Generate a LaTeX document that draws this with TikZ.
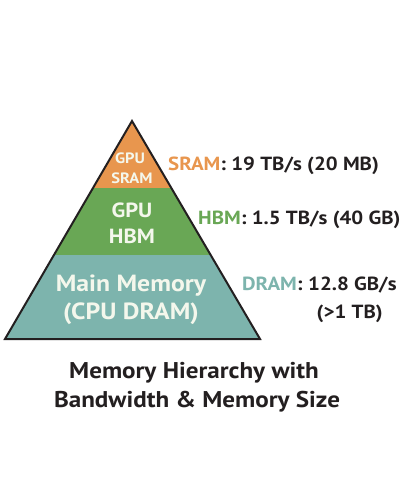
\documentclass[tikz,border=0pt]{standalone}
\usepackage{fontspec}
\setmainfont{PT Sans}[FakeStretch=1.1]
\usepackage{xcolor}
\definecolor{sramorange}{HTML}{E8964E}
\definecolor{hbmgreen}{HTML}{69A755}
\definecolor{dramteal}{HTML}{7DB4AD}
\definecolor{inkblack}{HTML}{231F20}
\definecolor{layertext}{HTML}{F4F7EC}

\begin{document}
\begin{tikzpicture}[x=1pt, y=-1pt,
            layer/.style={anchor=base, inner sep=0pt, text=layertext, font=\bfseries\fontsize{#1}{#1}\selectfont},
            speed/.style={anchor=base west, inner sep=0pt, text=inkblack, font=\bfseries\fontsize{19}{19}\selectfont},
            caption/.style={anchor=base, inner sep=0pt, text=inkblack, font=\bfseries\fontsize{22.8}{22.8}\selectfont}
        ]
            \useasboundingbox (0,0) rectangle (403,504);

            % Pyramid bands
            \coordinate (apex) at (132,121);
            \coordinate (bleft) at (5,339);
            \coordinate (bright) at (260,339);
            \fill[sramorange] (apex) -- (93,188) -- (171,188) -- cycle;
            \fill[hbmgreen] (93,188) -- (54,255) -- (210,255) -- (171,188) -- cycle;
            \fill[dramteal] (54,255) -- (bleft) -- (bright) -- (210,255) -- cycle;
            \draw[inkblack, line width=2pt] (apex) -- (bleft) -- (bright) -- cycle;

            % Text inside the layers
            \node[layer=15] (sramtop) at (130,163) {GPU};
            \node[layer=15] (srambot) at (132,183) {SRAM};
            \node[layer=20.5] (hbmtop) at (132,217) {GPU};
            \node[layer=20.5] (hbmbot) at (132,243) {HBM};
            \node[layer=23.4] (dramtop) at (131,291) {Main Memory};
            \node[layer=23.4] (drambot) at (131,319) {(CPU DRAM)};

            % Bandwidth and size labels
            \node[speed] (sramspeed) at (168,170) {\textcolor{sramorange}{SRAM}: 19 TB/s (20 MB)};
            \node[speed] (hbmspeed) at (198,224) {\textcolor{hbmgreen}{HBM}: 1.5 TB/s (40 GB)};
            \node[speed] (dramkey) at (242,290) {\textcolor{dramteal}{DRAM}:};
            \node[speed] (dramrate) at (dramkey.base east) {\ 12.8 GB/s};
            \node[speed, anchor=base] (dramsize) at ([yshift=-28pt]dramrate.base) {(>1 TB)};

            % Caption
            \node[caption] (captop) at (194,378) {Memory Hierarchy with};
            \node[caption] (capbot) at (197,407) {Bandwidth \& Memory Size};

        \end{tikzpicture}
\end{document}
